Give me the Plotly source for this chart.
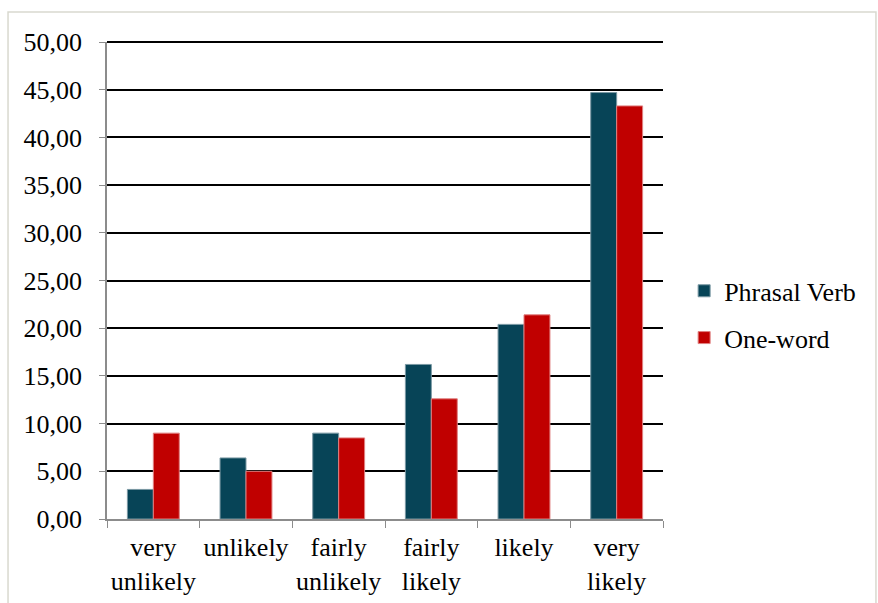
import plotly.graph_objects as go

categories = ["very<br>unlikely", "unlikely", "fairly<br>unlikely", "fairly<br>likely", "likely", "very<br>likely"]
phrasal_verb = [3.1, 6.4, 9.0, 16.2, 20.4, 44.7]
one_word = [9.0, 5.0, 8.5, 12.6, 21.4, 43.3]
y_ticks = [0, 5, 10, 15, 20, 25, 30, 35, 40, 45, 50]
y_max = 50

font_family = "Liberation Serif, Times New Roman, serif"

fig = go.Figure()
fig.add_trace(go.Bar(name="Phrasal Verb", x=categories, y=phrasal_verb, legendgroup="a",
                     marker=dict(color="#074457", line=dict(color="#7a98a3", width=1))))
fig.add_trace(go.Bar(name="One-word", x=categories, y=one_word, legendgroup="b",
                     marker=dict(color="#C00000", line=dict(color="#e08080", width=1))))

fig.update_layout(
    width=878, height=603,
    margin=dict(l=107, r=215, t=42, b=84),
    paper_bgcolor="white", plot_bgcolor="white",
    barmode="group", bargap=0.44, bargroupgap=0,
    separators=",.",
    font=dict(family=font_family, size=26, color="black"),
    legend=dict(x=1.038, y=0.429, xanchor="left", yanchor="middle",
                font=dict(family=font_family, size=26, color="black"),
                traceorder="grouped", tracegroupgap=10,
                itemwidth=30, bgcolor="rgba(0,0,0,0)"),
    shapes=[dict(type="rect", xref="paper", yref="paper",
                 x0=-0.178, x1=1.383, y0=-0.3, y1=1.063,
                 line=dict(color="#D9D9CF", width=1.5), layer="below"),
            dict(type="line", xref="paper", yref="paper", x0=0, x1=1, y0=1, y1=1,
                 line=dict(color="black", width=2), layer="below")],
)
fig.update_xaxes(showline=True, linecolor="#8c8c8c", linewidth=1.5,
                 ticks="outside", tickson="boundaries", tickcolor="#8c8c8c", ticklen=7,
                 showgrid=False, tickfont=dict(size=26), ticklabelstandoff=4,
                 tickangle=0, automargin=False)
fig.update_yaxes(range=[0, y_max], tickvals=y_ticks, tickformat=".2f",
                 showline=True, linecolor="#8c8c8c", linewidth=1.5,
                 ticks="outside", tickcolor="#8c8c8c", ticklen=6,
                 showgrid=True, gridcolor="black", gridwidth=2, zeroline=False,
                 tickfont=dict(size=26), ticklabelstandoff=12, automargin=False)

fig.write_html("out.html")
